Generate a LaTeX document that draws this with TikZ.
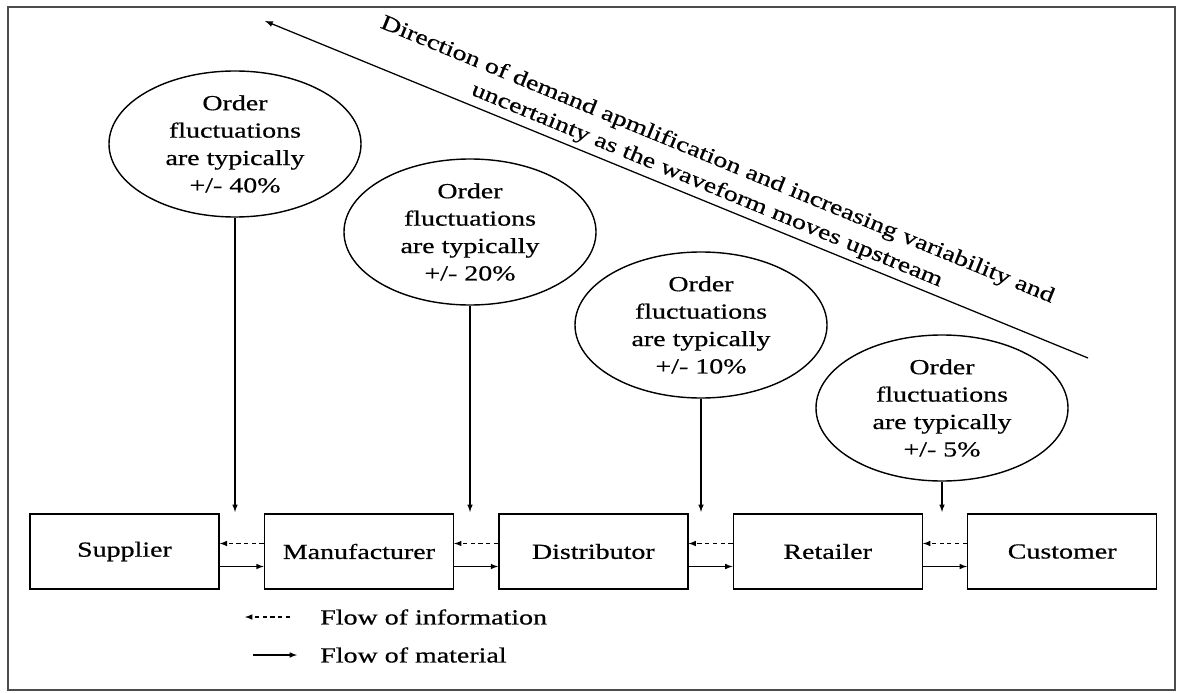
\documentclass[tikz,border=0pt]{standalone}
\usepackage{fontspec}
\setmainfont{Liberation Serif}[FakeStretch=1.3, FakeBold=0.6]
\usetikzlibrary{shapes.geometric, arrows, positioning, math, calc}

\begin{document}
\begin{tikzpicture}[
		x=0.25mm, y=-0.25mm,
		>=latex,
		every node/.style={font=\fontsize{15.3}{19.5}\selectfont}
	]
	\tikzmath{
		\boxW   = 47.25;  %box width (mm)
		\boxH   = 18.75;  %box height (mm)
		\boxGap = 11;     %space between boxes (mm)
		\ovalW  = 63;     %bubble width (mm)
		\ovalH  = 36.5;   %bubble height (mm)
	}
	\tikzstyle{Box} = [
		minimum width=\boxW mm,
		minimum height=\boxH mm,
		text centered,
		draw=black,
		line width=1pt
	]
	\tikzstyle{Bubble} = [
		ellipse,
		minimum width=\ovalW mm,
		minimum height=\ovalH mm,
		align=center,
		inner sep=0pt,
		draw=black,
		line width=1pt
	]
	\tikzstyle{info} = [->, dash pattern=on 3pt off 2.5pt, line width=0.8pt]
	\tikzstyle{material} = [->, line width=0.8pt]

	\useasboundingbox (0,0) rectangle (1181,693);
	\draw [gray!60!black, line width=1.3pt] (8,7) rectangle (1175,690);

	% bubbles
	\node (o1) [Bubble] at (235,144) {Order\\fluctuations\\are typically\\+/- 40\%};
	\node (o2) [Bubble] at (470,232) {Order\\fluctuations\\are typically\\+/- 20\%};
	\node (o3) [Bubble] at (701,325) {Order\\fluctuations\\are typically\\+/- 10\%};
	\node (o4) [Bubble] at (942,408) {Order\\fluctuations\\are typically\\+/- 5\%};

	% chain
	\node (sup) [Box] at (124.5,551.5) {Supplier};
	\node (man) [Box, right=\boxGap mm of sup] {Manufacturer};
	\node (dis) [Box, right=\boxGap mm of man] {Distributor};
	\node (ret) [Box, right=\boxGap mm of dis] {Retailer};
	\node (cus) [Box, right=\boxGap mm of ret] {Customer};

	\draw [info] ($(man.west)+(0,-8)$) -- ($(sup.east)+(0,-8)$);
	\draw [material] ($(sup.east)+(0,15)$) -- ($(man.west)+(0,15)$);
	\draw [info] ($(dis.west)+(0,-8)$) -- ($(man.east)+(0,-8)$);
	\draw [material] ($(man.east)+(0,15)$) -- ($(dis.west)+(0,15)$);
	\draw [info] ($(ret.west)+(0,-8)$) -- ($(dis.east)+(0,-8)$);
	\draw [material] ($(dis.east)+(0,15)$) -- ($(ret.west)+(0,15)$);
	\draw [info] ($(cus.west)+(0,-8)$) -- ($(ret.east)+(0,-8)$);
	\draw [material] ($(ret.east)+(0,15)$) -- ($(cus.west)+(0,15)$);

	\draw [material, shorten >=1pt] (o1.south) -- (o1.south |- sup.north);
	\draw [material, shorten >=1pt] (o2.south) -- (o2.south |- man.north);
	\draw [material, shorten >=1pt] (o3.south) -- (o3.south |- dis.north);
	\draw [material, shorten >=1pt] (o4.south) -- (o4.south |- ret.north);

	% upstream direction
	\coordinate (dirHead) at (265,21);
	\coordinate (dirTail) at (1088,358);
	\draw [->, line width=0.9pt] (dirTail) -- (dirHead);
	\node (dirTxt) [rotate=-22.3, align=center] at (712,173)
		{Direction of demand apmlification and increasing variability and\\uncertainty as the waveform moves upstream};

	% legend
	\node (infoTxt) [anchor=west, inner sep=0pt] at (320,617) {Flow of information};
	\node (matTxt) [anchor=west, inner sep=0pt] at (320,655) {Flow of material};
	\coordinate (infoL) at (245,617);
	\coordinate (infoR) at (290,617);
	\coordinate (matL) at (253,655);
	\coordinate (matR) at (297,655);
	\draw [info] (infoR) -- (infoL);
	\draw [material] (matL) -- (matR);
\end{tikzpicture}
\end{document}
